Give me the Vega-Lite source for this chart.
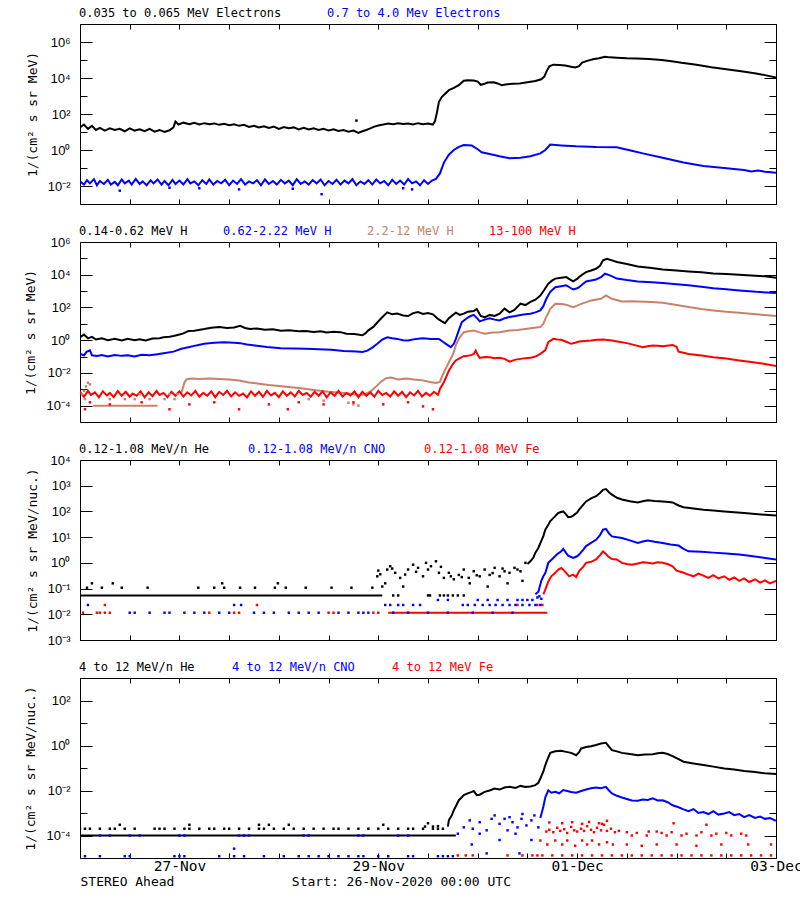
{
"$schema": "https://vega.github.io/schema/vega-lite/v6.json",
"padding": {"left": 24, "top": 6, "right": 0, "bottom": 0},
"spacing": 12,
"config": {
  "view": {"stroke": "#000000", "strokeWidth": 1},
  "font": "DejaVu Sans Mono",
  "axis": {"grid": false, "domain": false, "tickColor": "#000000", "labelColor": "#000000", "titleColor": "#000000", "labelFlush": false, "labelOverlap": false, "tickWidth": 1, "zindex": 2},
  "legend": {"symbolSize": 1, "symbolType": "square", "symbolOpacity": 0, "symbolStrokeWidth": 0, "labelOffset": 0, "labelFont": "DejaVu Sans Mono", "labelFontSize": 12, "labelLimit": 400, "padding": 0, "rowPadding": 0}
},
"resolve": {"scale": {"color": "independent", "y": "independent", "x": "independent"}, "legend": {"color": "independent"}},
"datasets": {
"l1": [
{"s":"a","g":1,"d":0,"v":18},{"s":"a","g":1,"d":0.04,"v":26},{"s":"a","g":1,"d":0.08,"v":15},{"s":"a","g":1,"d":0.12,"v":22},{"s":"a","g":1,"d":0.16,"v":13},{"s":"a","g":1,"d":0.2,"v":17},{"s":"a","g":1,"d":0.25,"v":12},{"s":"a","g":1,"d":0.3,"v":16},{"s":"a","g":1,"d":0.35,"v":13},{"s":"a","g":1,"d":0.4,"v":15},{"s":"a","g":1,"d":0.45,"v":11},{"s":"a","g":1,"d":0.5,"v":16},{"s":"a","g":1,"d":0.55,"v":12},{"s":"a","g":1,"d":0.6,"v":14},{"s":"a","g":1,"d":0.65,"v":11},{"s":"a","g":1,"d":0.7,"v":15},{"s":"a","g":1,"d":0.75,"v":10.5},{"s":"a","g":1,"d":0.8,"v":13},{"s":"a","g":1,"d":0.85,"v":10},{"s":"a","g":1,"d":0.9,"v":12.5},{"s":"a","g":1,"d":0.94,"v":18},{"s":"a","g":1,"d":0.96,"v":38},{"s":"a","g":1,"d":0.99,"v":26},{"s":"a","g":1,"d":1.04,"v":33},{"s":"a","g":1,"d":1.1,"v":27},{"s":"a","g":1,"d":1.15,"v":32},{"s":"a","g":1,"d":1.2,"v":26},{"s":"a","g":1,"d":1.25,"v":31},{"s":"a","g":1,"d":1.3,"v":27},{"s":"a","g":1,"d":1.35,"v":30},{"s":"a","g":1,"d":1.4,"v":25},{"s":"a","g":1,"d":1.45,"v":29},{"s":"a","g":1,"d":1.5,"v":24},{"s":"a","g":1,"d":1.55,"v":27},{"s":"a","g":1,"d":1.6,"v":22},{"s":"a","g":1,"d":1.65,"v":25},{"s":"a","g":1,"d":1.7,"v":19},{"s":"a","g":1,"d":1.75,"v":22},{"s":"a","g":1,"d":1.8,"v":18},{"s":"a","g":1,"d":1.85,"v":21},{"s":"a","g":1,"d":1.9,"v":17},{"s":"a","g":1,"d":1.95,"v":20},{"s":"a","g":1,"d":2.0,"v":15},{"s":"a","g":1,"d":2.05,"v":19},{"s":"a","g":1,"d":2.1,"v":16},{"s":"a","g":1,"d":2.15,"v":18},{"s":"a","g":1,"d":2.2,"v":14},{"s":"a","g":1,"d":2.25,"v":17},{"s":"a","g":1,"d":2.3,"v":14},{"s":"a","g":1,"d":2.35,"v":16},{"s":"a","g":1,"d":2.4,"v":13},{"s":"a","g":1,"d":2.45,"v":15},{"s":"a","g":1,"d":2.5,"v":12},{"s":"a","g":1,"d":2.55,"v":14},{"s":"a","g":1,"d":2.6,"v":11.5},{"s":"a","g":1,"d":2.65,"v":13},{"s":"a","g":1,"d":2.7,"v":10.5},{"s":"a","g":1,"d":2.75,"v":12},{"s":"a","g":1,"d":2.8,"v":9},{"s":"a","g":1,"d":2.84,"v":11},{"s":"a","g":1,"d":2.88,"v":13},{"s":"a","g":1,"d":2.92,"v":16},{"s":"a","g":1,"d":2.96,"v":20},{"s":"a","g":1,"d":3.0,"v":23},{"s":"a","g":1,"d":3.05,"v":26},{"s":"a","g":1,"d":3.1,"v":30},{"s":"a","g":1,"d":3.15,"v":27},{"s":"a","g":1,"d":3.2,"v":31},{"s":"a","g":1,"d":3.25,"v":28},{"s":"a","g":1,"d":3.3,"v":30},{"s":"a","g":1,"d":3.35,"v":26},{"s":"a","g":1,"d":3.4,"v":31},{"s":"a","g":1,"d":3.45,"v":27},{"s":"a","g":1,"d":3.5,"v":30},{"s":"a","g":1,"d":3.55,"v":26},{"s":"a","g":1,"d":3.57,"v":40},{"s":"a","g":1,"d":3.59,"v":120},{"s":"a","g":1,"d":3.61,"v":480},{"s":"a","g":1,"d":3.64,"v":900},{"s":"a","g":1,"d":3.67,"v":1300},{"s":"a","g":1,"d":3.71,"v":2100},{"s":"a","g":1,"d":3.76,"v":2800},{"s":"a","g":1,"d":3.81,"v":4000},{"s":"a","g":1,"d":3.86,"v":7000},{"s":"a","g":1,"d":3.9,"v":7600},{"s":"a","g":1,"d":3.96,"v":7200},{"s":"a","g":1,"d":4.0,"v":6300},{"s":"a","g":1,"d":4.03,"v":4200},{"s":"a","g":1,"d":4.06,"v":4600},{"s":"a","g":1,"d":4.1,"v":5600},{"s":"a","g":1,"d":4.16,"v":5800},{"s":"a","g":1,"d":4.2,"v":5000},{"s":"a","g":1,"d":4.24,"v":4000},{"s":"a","g":1,"d":4.28,"v":4400},{"s":"a","g":1,"d":4.35,"v":4800},{"s":"a","g":1,"d":4.42,"v":5000},{"s":"a","g":1,"d":4.5,"v":5800},{"s":"a","g":1,"d":4.58,"v":6800},{"s":"a","g":1,"d":4.64,"v":8500},{"s":"a","g":1,"d":4.67,"v":12000},{"s":"a","g":1,"d":4.69,"v":22000},{"s":"a","g":1,"d":4.72,"v":45000},{"s":"a","g":1,"d":4.76,"v":55000},{"s":"a","g":1,"d":4.82,"v":52000},{"s":"a","g":1,"d":4.88,"v":50000},{"s":"a","g":1,"d":4.94,"v":42000},{"s":"a","g":1,"d":4.98,"v":38000},{"s":"a","g":1,"d":5.02,"v":45000},{"s":"a","g":1,"d":5.05,"v":72000},{"s":"a","g":1,"d":5.1,"v":89000},{"s":"a","g":1,"d":5.16,"v":110000},{"s":"a","g":1,"d":5.22,"v":125000},{"s":"a","g":1,"d":5.28,"v":150000},{"s":"a","g":1,"d":5.33,"v":140000},{"s":"a","g":1,"d":5.4,"v":135000},{"s":"a","g":1,"d":5.5,"v":125000},{"s":"a","g":1,"d":5.6,"v":120000},{"s":"a","g":1,"d":5.72,"v":112000},{"s":"a","g":1,"d":5.85,"v":100000},{"s":"a","g":1,"d":5.95,"v":85000},{"s":"a","g":1,"d":6.05,"v":70000},{"s":"a","g":1,"d":6.2,"v":55000},{"s":"a","g":1,"d":6.35,"v":40000},{"s":"a","g":1,"d":6.5,"v":31000},{"s":"a","g":1,"d":6.65,"v":24000},{"s":"a","g":1,"d":6.8,"v":18000},{"s":"a","g":1,"d":6.9,"v":14000},{"s":"a","g":1,"d":7.0,"v":10500},
{"s":"b","g":1,"d":0,"v":0.018},{"s":"b","g":1,"d":0.04,"v":0.012},{"s":"b","g":1,"d":0.07,"v":0.021},{"s":"b","g":1,"d":0.1,"v":0.014},{"s":"b","g":1,"d":0.14,"v":0.024},{"s":"b","g":1,"d":0.17,"v":0.011},{"s":"b","g":1,"d":0.2,"v":0.019},{"s":"b","g":1,"d":0.24,"v":0.013},{"s":"b","g":1,"d":0.28,"v":0.022},{"s":"b","g":1,"d":0.31,"v":0.012},{"s":"b","g":1,"d":0.35,"v":0.017},{"s":"b","g":1,"d":0.38,"v":0.011},{"s":"b","g":1,"d":0.42,"v":0.023},{"s":"b","g":1,"d":0.45,"v":0.014},{"s":"b","g":1,"d":0.49,"v":0.02},{"s":"b","g":1,"d":0.52,"v":0.012},{"s":"b","g":1,"d":0.56,"v":0.025},{"s":"b","g":1,"d":0.6,"v":0.013},{"s":"b","g":1,"d":0.63,"v":0.018},{"s":"b","g":1,"d":0.67,"v":0.011},{"s":"b","g":1,"d":0.71,"v":0.021},{"s":"b","g":1,"d":0.74,"v":0.014},{"s":"b","g":1,"d":0.78,"v":0.023},{"s":"b","g":1,"d":0.82,"v":0.012},{"s":"b","g":1,"d":0.85,"v":0.019},{"s":"b","g":1,"d":0.89,"v":0.011},{"s":"b","g":1,"d":0.93,"v":0.022},{"s":"b","g":1,"d":0.96,"v":0.013},{"s":"b","g":1,"d":1.0,"v":0.02},{"s":"b","g":1,"d":1.04,"v":0.012},{"s":"b","g":1,"d":1.08,"v":0.024},{"s":"b","g":1,"d":1.11,"v":0.014},{"s":"b","g":1,"d":1.15,"v":0.018},{"s":"b","g":1,"d":1.19,"v":0.011},{"s":"b","g":1,"d":1.23,"v":0.021},{"s":"b","g":1,"d":1.27,"v":0.013},{"s":"b","g":1,"d":1.3,"v":0.023},{"s":"b","g":1,"d":1.34,"v":0.012},{"s":"b","g":1,"d":1.38,"v":0.019},{"s":"b","g":1,"d":1.42,"v":0.014},{"s":"b","g":1,"d":1.46,"v":0.022},{"s":"b","g":1,"d":1.5,"v":0.011},{"s":"b","g":1,"d":1.54,"v":0.02},{"s":"b","g":1,"d":1.58,"v":0.013},{"s":"b","g":1,"d":1.62,"v":0.024},{"s":"b","g":1,"d":1.66,"v":0.012},{"s":"b","g":1,"d":1.7,"v":0.018},{"s":"b","g":1,"d":1.74,"v":0.014},{"s":"b","g":1,"d":1.78,"v":0.021},{"s":"b","g":1,"d":1.82,"v":0.011},{"s":"b","g":1,"d":1.86,"v":0.023},{"s":"b","g":1,"d":1.9,"v":0.013},{"s":"b","g":1,"d":1.94,"v":0.019},{"s":"b","g":1,"d":1.98,"v":0.012},{"s":"b","g":1,"d":2.02,"v":0.022},{"s":"b","g":1,"d":2.06,"v":0.014},{"s":"b","g":1,"d":2.1,"v":0.02},{"s":"b","g":1,"d":2.14,"v":0.011},{"s":"b","g":1,"d":2.18,"v":0.024},{"s":"b","g":1,"d":2.22,"v":0.013},{"s":"b","g":1,"d":2.26,"v":0.018},{"s":"b","g":1,"d":2.3,"v":0.012},{"s":"b","g":1,"d":2.34,"v":0.021},{"s":"b","g":1,"d":2.38,"v":0.014},{"s":"b","g":1,"d":2.42,"v":0.023},{"s":"b","g":1,"d":2.46,"v":0.011},{"s":"b","g":1,"d":2.5,"v":0.019},{"s":"b","g":1,"d":2.54,"v":0.013},{"s":"b","g":1,"d":2.58,"v":0.022},{"s":"b","g":1,"d":2.62,"v":0.012},{"s":"b","g":1,"d":2.66,"v":0.02},{"s":"b","g":1,"d":2.7,"v":0.014},{"s":"b","g":1,"d":2.74,"v":0.024},{"s":"b","g":1,"d":2.78,"v":0.011},{"s":"b","g":1,"d":2.82,"v":0.018},{"s":"b","g":1,"d":2.86,"v":0.013},{"s":"b","g":1,"d":2.9,"v":0.021},{"s":"b","g":1,"d":2.94,"v":0.012},{"s":"b","g":1,"d":2.98,"v":0.023},{"s":"b","g":1,"d":3.02,"v":0.014},{"s":"b","g":1,"d":3.06,"v":0.019},{"s":"b","g":1,"d":3.1,"v":0.011},{"s":"b","g":1,"d":3.14,"v":0.022},{"s":"b","g":1,"d":3.18,"v":0.013},{"s":"b","g":1,"d":3.22,"v":0.02},{"s":"b","g":1,"d":3.26,"v":0.012},{"s":"b","g":1,"d":3.3,"v":0.024},{"s":"b","g":1,"d":3.34,"v":0.014},{"s":"b","g":1,"d":3.38,"v":0.018},{"s":"b","g":1,"d":3.42,"v":0.011},{"s":"b","g":1,"d":3.46,"v":0.021},{"s":"b","g":1,"d":3.5,"v":0.013},{"s":"b","g":1,"d":3.54,"v":0.02},{"s":"b","g":1,"d":3.58,"v":0.025},{"s":"b","g":1,"d":3.62,"v":0.05},{"s":"b","g":1,"d":3.66,"v":0.2},{"s":"b","g":1,"d":3.71,"v":0.55},{"s":"b","g":1,"d":3.76,"v":1.0},{"s":"b","g":1,"d":3.81,"v":1.5},{"s":"b","g":1,"d":3.86,"v":1.9},{"s":"b","g":1,"d":3.94,"v":1.8},{"s":"b","g":1,"d":4.0,"v":1.1},{"s":"b","g":1,"d":4.04,"v":0.75},{"s":"b","g":1,"d":4.12,"v":0.6},{"s":"b","g":1,"d":4.22,"v":0.45},{"s":"b","g":1,"d":4.32,"v":0.35},{"s":"b","g":1,"d":4.43,"v":0.37},{"s":"b","g":1,"d":4.53,"v":0.45},{"s":"b","g":1,"d":4.63,"v":0.65},{"s":"b","g":1,"d":4.68,"v":1.0},{"s":"b","g":1,"d":4.73,"v":2.0},{"s":"b","g":1,"d":4.84,"v":1.8},{"s":"b","g":1,"d":4.99,"v":1.6},{"s":"b","g":1,"d":5.19,"v":1.45},{"s":"b","g":1,"d":5.4,"v":1.4},{"s":"b","g":1,"d":5.45,"v":1.2},{"s":"b","g":1,"d":5.55,"v":0.9},{"s":"b","g":1,"d":5.66,"v":0.65},{"s":"b","g":1,"d":5.86,"v":0.37},{"s":"b","g":1,"d":6.07,"v":0.2},{"s":"b","g":1,"d":6.27,"v":0.13},{"s":"b","g":1,"d":6.48,"v":0.1},{"s":"b","g":1,"d":6.6,"v":0.085},{"s":"b","g":1,"d":6.68,"v":0.078},{"s":"b","g":1,"d":6.75,"v":0.064},{"s":"b","g":1,"d":6.82,"v":0.072},{"s":"b","g":1,"d":6.89,"v":0.062},{"s":"b","g":1,"d":6.95,"v":0.058},{"s":"b","g":1,"d":7.0,"v":0.055}
],
"q1": [
{"s":"a","d":2.78,"v":43},
{"s":"b","d":0.4,"v":0.0055},{"s":"b","d":0.9,"v":0.008},{"s":"b","d":1.2,"v":0.0075},{"s":"b","d":1.6,"v":0.0065},{"s":"b","d":2.14,"v":0.007},{"s":"b","d":2.43,"v":0.0035},{"s":"b","d":3.25,"v":0.0075},{"s":"b","d":3.34,"v":0.0065}
],
"l2": [
{"s":"a","g":1,"d":0,"v":1.5},{"s":"a","g":1,"d":0.04,"v":2.2},{"s":"a","g":1,"d":0.08,"v":1.3},{"s":"a","g":1,"d":0.12,"v":1.6},{"s":"a","g":1,"d":0.16,"v":1.1},{"s":"a","g":1,"d":0.22,"v":1.3},{"s":"a","g":1,"d":0.28,"v":1.0},{"s":"a","g":1,"d":0.35,"v":1.2},{"s":"a","g":1,"d":0.42,"v":0.95},{"s":"a","g":1,"d":0.48,"v":1.2},{"s":"a","g":1,"d":0.55,"v":1.0},{"s":"a","g":1,"d":0.6,"v":1.15},{"s":"a","g":1,"d":0.66,"v":0.95},{"s":"a","g":1,"d":0.73,"v":1.25},{"s":"a","g":1,"d":0.8,"v":1.3},{"s":"a","g":1,"d":0.84,"v":1.5},{"s":"a","g":1,"d":0.9,"v":1.6},{"s":"a","g":1,"d":0.94,"v":1.8},{"s":"a","g":1,"d":1.0,"v":2.2},{"s":"a","g":1,"d":1.04,"v":2.6},{"s":"a","g":1,"d":1.09,"v":3.6},{"s":"a","g":1,"d":1.15,"v":3.8},{"s":"a","g":1,"d":1.25,"v":4.8},{"s":"a","g":1,"d":1.32,"v":5.8},{"s":"a","g":1,"d":1.4,"v":6.3},{"s":"a","g":1,"d":1.48,"v":5.5},{"s":"a","g":1,"d":1.55,"v":5.9},{"s":"a","g":1,"d":1.61,"v":7.5},{"s":"a","g":1,"d":1.66,"v":5.6},{"s":"a","g":1,"d":1.71,"v":4.8},{"s":"a","g":1,"d":1.78,"v":5.2},{"s":"a","g":1,"d":1.86,"v":4.4},{"s":"a","g":1,"d":1.94,"v":4.6},{"s":"a","g":1,"d":2.02,"v":3.8},{"s":"a","g":1,"d":2.1,"v":4.0},{"s":"a","g":1,"d":2.2,"v":3.5},{"s":"a","g":1,"d":2.27,"v":3.6},{"s":"a","g":1,"d":2.35,"v":3.2},{"s":"a","g":1,"d":2.42,"v":3.5},{"s":"a","g":1,"d":2.48,"v":3.0},{"s":"a","g":1,"d":2.55,"v":3.3},{"s":"a","g":1,"d":2.62,"v":3.1},{"s":"a","g":1,"d":2.68,"v":2.5},{"s":"a","g":1,"d":2.76,"v":2.4},{"s":"a","g":1,"d":2.84,"v":2.0},{"s":"a","g":1,"d":2.87,"v":2.6},{"s":"a","g":1,"d":2.9,"v":4.0},{"s":"a","g":1,"d":2.95,"v":6.5},{"s":"a","g":1,"d":2.99,"v":12},{"s":"a","g":1,"d":3.04,"v":25},{"s":"a","g":1,"d":3.09,"v":50},{"s":"a","g":1,"d":3.14,"v":38},{"s":"a","g":1,"d":3.19,"v":42},{"s":"a","g":1,"d":3.25,"v":32},{"s":"a","g":1,"d":3.3,"v":30},{"s":"a","g":1,"d":3.35,"v":45},{"s":"a","g":1,"d":3.4,"v":52},{"s":"a","g":1,"d":3.45,"v":40},{"s":"a","g":1,"d":3.5,"v":46},{"s":"a","g":1,"d":3.55,"v":38},{"s":"a","g":1,"d":3.6,"v":20},{"s":"a","g":1,"d":3.64,"v":14},{"s":"a","g":1,"d":3.67,"v":11},{"s":"a","g":1,"d":3.71,"v":22},{"s":"a","g":1,"d":3.75,"v":35},{"s":"a","g":1,"d":3.78,"v":48},{"s":"a","g":1,"d":3.82,"v":35},{"s":"a","g":1,"d":3.86,"v":42},{"s":"a","g":1,"d":3.9,"v":55},{"s":"a","g":1,"d":3.96,"v":60},{"s":"a","g":1,"d":3.99,"v":80},{"s":"a","g":1,"d":4.03,"v":30},{"s":"a","g":1,"d":4.07,"v":25},{"s":"a","g":1,"d":4.12,"v":35},{"s":"a","g":1,"d":4.17,"v":30},{"s":"a","g":1,"d":4.22,"v":42},{"s":"a","g":1,"d":4.27,"v":85},{"s":"a","g":1,"d":4.32,"v":50},{"s":"a","g":1,"d":4.37,"v":70},{"s":"a","g":1,"d":4.43,"v":170},{"s":"a","g":1,"d":4.48,"v":140},{"s":"a","g":1,"d":4.53,"v":220},{"s":"a","g":1,"d":4.58,"v":300},{"s":"a","g":1,"d":4.63,"v":540},{"s":"a","g":1,"d":4.67,"v":1200},{"s":"a","g":1,"d":4.71,"v":2800},{"s":"a","g":1,"d":4.75,"v":4500},{"s":"a","g":1,"d":4.78,"v":5800},{"s":"a","g":1,"d":4.84,"v":6500},{"s":"a","g":1,"d":4.89,"v":7200},{"s":"a","g":1,"d":4.93,"v":5000},{"s":"a","g":1,"d":4.96,"v":3900},{"s":"a","g":1,"d":5.0,"v":5500},{"s":"a","g":1,"d":5.02,"v":7200},{"s":"a","g":1,"d":5.06,"v":11000},{"s":"a","g":1,"d":5.09,"v":14500},{"s":"a","g":1,"d":5.14,"v":18000},{"s":"a","g":1,"d":5.19,"v":23000},{"s":"a","g":1,"d":5.23,"v":35000},{"s":"a","g":1,"d":5.26,"v":76000},{"s":"a","g":1,"d":5.3,"v":95000},{"s":"a","g":1,"d":5.35,"v":75000},{"s":"a","g":1,"d":5.4,"v":60000},{"s":"a","g":1,"d":5.5,"v":45000},{"s":"a","g":1,"d":5.61,"v":32000},{"s":"a","g":1,"d":5.75,"v":26000},{"s":"a","g":1,"d":5.86,"v":21000},{"s":"a","g":1,"d":6.0,"v":18000},{"s":"a","g":1,"d":6.12,"v":16000},{"s":"a","g":1,"d":6.25,"v":14000},{"s":"a","g":1,"d":6.37,"v":12000},{"s":"a","g":1,"d":6.5,"v":11000},{"s":"a","g":1,"d":6.63,"v":10000},{"s":"a","g":1,"d":6.75,"v":9000},{"s":"a","g":1,"d":6.89,"v":8000},{"s":"a","g":1,"d":7.0,"v":6600},
{"s":"b","g":1,"d":0,"v":0.145},{"s":"b","g":1,"d":0.04,"v":0.12},{"s":"b","g":1,"d":0.07,"v":0.2},{"s":"b","g":1,"d":0.1,"v":0.24},{"s":"b","g":1,"d":0.12,"v":0.12},{"s":"b","g":1,"d":0.17,"v":0.11},{"s":"b","g":1,"d":0.22,"v":0.125},{"s":"b","g":1,"d":0.28,"v":0.1},{"s":"b","g":1,"d":0.35,"v":0.125},{"s":"b","g":1,"d":0.42,"v":0.11},{"s":"b","g":1,"d":0.48,"v":0.12},{"s":"b","g":1,"d":0.55,"v":0.1},{"s":"b","g":1,"d":0.62,"v":0.13},{"s":"b","g":1,"d":0.7,"v":0.12},{"s":"b","g":1,"d":0.78,"v":0.14},{"s":"b","g":1,"d":0.84,"v":0.16},{"s":"b","g":1,"d":0.94,"v":0.2},{"s":"b","g":1,"d":1.02,"v":0.3},{"s":"b","g":1,"d":1.09,"v":0.37},{"s":"b","g":1,"d":1.17,"v":0.48},{"s":"b","g":1,"d":1.25,"v":0.6},{"s":"b","g":1,"d":1.35,"v":0.7},{"s":"b","g":1,"d":1.45,"v":0.76},{"s":"b","g":1,"d":1.55,"v":0.7},{"s":"b","g":1,"d":1.61,"v":0.66},{"s":"b","g":1,"d":1.68,"v":0.55},{"s":"b","g":1,"d":1.76,"v":0.47},{"s":"b","g":1,"d":1.88,"v":0.38},{"s":"b","g":1,"d":2.02,"v":0.32},{"s":"b","g":1,"d":2.15,"v":0.31},{"s":"b","g":1,"d":2.27,"v":0.3},{"s":"b","g":1,"d":2.4,"v":0.28},{"s":"b","g":1,"d":2.53,"v":0.26},{"s":"b","g":1,"d":2.65,"v":0.22},{"s":"b","g":1,"d":2.78,"v":0.2},{"s":"b","g":1,"d":2.84,"v":0.19},{"s":"b","g":1,"d":2.89,"v":0.23},{"s":"b","g":1,"d":2.94,"v":0.35},{"s":"b","g":1,"d":2.99,"v":0.6},{"s":"b","g":1,"d":3.04,"v":1.1},{"s":"b","g":1,"d":3.09,"v":1.5},{"s":"b","g":1,"d":3.14,"v":1.3},{"s":"b","g":1,"d":3.19,"v":1.2},{"s":"b","g":1,"d":3.25,"v":1.0},{"s":"b","g":1,"d":3.3,"v":0.95},{"s":"b","g":1,"d":3.38,"v":1.2},{"s":"b","g":1,"d":3.45,"v":1.3},{"s":"b","g":1,"d":3.53,"v":1.2},{"s":"b","g":1,"d":3.61,"v":1.2},{"s":"b","g":1,"d":3.65,"v":0.8},{"s":"b","g":1,"d":3.68,"v":0.6},{"s":"b","g":1,"d":3.71,"v":0.45},{"s":"b","g":1,"d":3.73,"v":0.37},{"s":"b","g":1,"d":3.76,"v":0.6},{"s":"b","g":1,"d":3.78,"v":1.2},{"s":"b","g":1,"d":3.81,"v":4},{"s":"b","g":1,"d":3.84,"v":12.6},{"s":"b","g":1,"d":3.89,"v":22},{"s":"b","g":1,"d":3.93,"v":30},{"s":"b","g":1,"d":3.96,"v":35},{"s":"b","g":1,"d":4.0,"v":20},{"s":"b","g":1,"d":4.02,"v":14},{"s":"b","g":1,"d":4.07,"v":18},{"s":"b","g":1,"d":4.12,"v":22},{"s":"b","g":1,"d":4.17,"v":18},{"s":"b","g":1,"d":4.22,"v":16},{"s":"b","g":1,"d":4.27,"v":22},{"s":"b","g":1,"d":4.32,"v":26},{"s":"b","g":1,"d":4.38,"v":30},{"s":"b","g":1,"d":4.43,"v":35},{"s":"b","g":1,"d":4.48,"v":38},{"s":"b","g":1,"d":4.53,"v":41},{"s":"b","g":1,"d":4.58,"v":50},{"s":"b","g":1,"d":4.63,"v":66},{"s":"b","g":1,"d":4.66,"v":120},{"s":"b","g":1,"d":4.69,"v":340},{"s":"b","g":1,"d":4.73,"v":900},{"s":"b","g":1,"d":4.78,"v":1740},{"s":"b","g":1,"d":4.84,"v":2000},{"s":"b","g":1,"d":4.89,"v":2240},{"s":"b","g":1,"d":4.93,"v":1600},{"s":"b","g":1,"d":4.96,"v":1260},{"s":"b","g":1,"d":5.0,"v":1500},{"s":"b","g":1,"d":5.02,"v":1740},{"s":"b","g":1,"d":5.06,"v":2800},{"s":"b","g":1,"d":5.09,"v":3900},{"s":"b","g":1,"d":5.14,"v":4500},{"s":"b","g":1,"d":5.19,"v":5100},{"s":"b","g":1,"d":5.24,"v":7000},{"s":"b","g":1,"d":5.28,"v":11500},{"s":"b","g":1,"d":5.33,"v":9100},{"s":"b","g":1,"d":5.4,"v":5800},{"s":"b","g":1,"d":5.5,"v":4700},{"s":"b","g":1,"d":5.61,"v":3900},{"s":"b","g":1,"d":5.75,"v":3500},{"s":"b","g":1,"d":5.86,"v":3100},{"s":"b","g":1,"d":6.0,"v":2600},{"s":"b","g":1,"d":6.12,"v":2240},{"s":"b","g":1,"d":6.25,"v":1850},{"s":"b","g":1,"d":6.37,"v":1500},{"s":"b","g":1,"d":6.5,"v":1300},{"s":"b","g":1,"d":6.63,"v":1100},{"s":"b","g":1,"d":6.8,"v":900},{"s":"b","g":1,"d":7.0,"v":760},
{"s":"c","g":0,"d":0.13,"v":0.0001},{"s":"c","g":0,"d":0.78,"v":0.0001},
{"s":"c","g":1,"d":1.02,"v":0.0006},{"s":"c","g":1,"d":1.05,"v":0.0025},{"s":"c","g":1,"d":1.07,"v":0.004},{"s":"c","g":1,"d":1.12,"v":0.0045},{"s":"c","g":1,"d":1.2,"v":0.0042},{"s":"c","g":1,"d":1.3,"v":0.0046},{"s":"c","g":1,"d":1.4,"v":0.0042},{"s":"c","g":1,"d":1.5,"v":0.0039},{"s":"c","g":1,"d":1.6,"v":0.0034},{"s":"c","g":1,"d":1.7,"v":0.0026},{"s":"c","g":1,"d":1.8,"v":0.0022},{"s":"c","g":1,"d":1.9,"v":0.0018},{"s":"c","g":1,"d":2.0,"v":0.0016},{"s":"c","g":1,"d":2.1,"v":0.0014},{"s":"c","g":1,"d":2.2,"v":0.0012},{"s":"c","g":1,"d":2.35,"v":0.0009},{"s":"c","g":1,"d":2.5,"v":0.0007},{"s":"c","g":1,"d":2.6,"v":0.00063},{"s":"c","g":1,"d":2.7,"v":0.00055},{"s":"c","g":1,"d":2.8,"v":0.00045},{"s":"c","g":1,"d":2.87,"v":0.0005},{"s":"c","g":1,"d":2.93,"v":0.0008},{"s":"c","g":1,"d":2.98,"v":0.0015},{"s":"c","g":1,"d":3.03,"v":0.003},{"s":"c","g":1,"d":3.08,"v":0.0048},{"s":"c","g":1,"d":3.13,"v":0.0052},{"s":"c","g":1,"d":3.2,"v":0.004},{"s":"c","g":1,"d":3.28,"v":0.0045},{"s":"c","g":1,"d":3.36,"v":0.004},{"s":"c","g":1,"d":3.45,"v":0.0035},{"s":"c","g":1,"d":3.52,"v":0.0028},{"s":"c","g":1,"d":3.58,"v":0.0024},{"s":"c","g":1,"d":3.62,"v":0.0028},{"s":"c","g":1,"d":3.64,"v":0.006},{"s":"c","g":1,"d":3.66,"v":0.011},{"s":"c","g":1,"d":3.69,"v":0.025},{"s":"c","g":1,"d":3.71,"v":0.045},{"s":"c","g":1,"d":3.74,"v":0.1},{"s":"c","g":1,"d":3.76,"v":0.19},{"s":"c","g":1,"d":3.78,"v":0.5},{"s":"c","g":1,"d":3.81,"v":1.2},{"s":"c","g":1,"d":3.84,"v":2.2},{"s":"c","g":1,"d":3.86,"v":3.1},{"s":"c","g":1,"d":3.91,"v":3.5},{"s":"c","g":1,"d":3.96,"v":3.9},{"s":"c","g":1,"d":4.02,"v":3.0},{"s":"c","g":1,"d":4.07,"v":2.5},{"s":"c","g":1,"d":4.15,"v":2.9},{"s":"c","g":1,"d":4.22,"v":3.1},{"s":"c","g":1,"d":4.32,"v":3.9},{"s":"c","g":1,"d":4.4,"v":4.2},{"s":"c","g":1,"d":4.48,"v":4.9},{"s":"c","g":1,"d":4.55,"v":5.5},{"s":"c","g":1,"d":4.63,"v":6.3},{"s":"c","g":1,"d":4.66,"v":10},{"s":"c","g":1,"d":4.68,"v":20},{"s":"c","g":1,"d":4.71,"v":45},{"s":"c","g":1,"d":4.73,"v":83},{"s":"c","g":1,"d":4.78,"v":166},{"s":"c","g":1,"d":4.84,"v":160},{"s":"c","g":1,"d":4.89,"v":145},{"s":"c","g":1,"d":4.96,"v":105},{"s":"c","g":1,"d":5.0,"v":130},{"s":"c","g":1,"d":5.04,"v":166},{"s":"c","g":1,"d":5.1,"v":220},{"s":"c","g":1,"d":5.14,"v":270},{"s":"c","g":1,"d":5.2,"v":310},{"s":"c","g":1,"d":5.24,"v":340},{"s":"c","g":1,"d":5.29,"v":537},{"s":"c","g":1,"d":5.35,"v":340},{"s":"c","g":1,"d":5.45,"v":234},{"s":"c","g":1,"d":5.55,"v":240},{"s":"c","g":1,"d":5.61,"v":234},{"s":"c","g":1,"d":5.75,"v":215},{"s":"c","g":1,"d":5.86,"v":195},{"s":"c","g":1,"d":6.0,"v":140},{"s":"c","g":1,"d":6.12,"v":105},{"s":"c","g":1,"d":6.25,"v":80},{"s":"c","g":1,"d":6.37,"v":66},{"s":"c","g":1,"d":6.5,"v":55},{"s":"c","g":1,"d":6.63,"v":47},{"s":"c","g":1,"d":6.8,"v":38},{"s":"c","g":1,"d":7.0,"v":30},
{"s":"d","g":1,"d":0,"v":0.0007},{"s":"d","g":1,"d":0.04,"v":0.00035},{"s":"d","g":1,"d":0.08,"v":0.0008},{"s":"d","g":1,"d":0.11,"v":0.00045},{"s":"d","g":1,"d":0.15,"v":0.00065},{"s":"d","g":1,"d":0.19,"v":0.00032},{"s":"d","g":1,"d":0.23,"v":0.00075},{"s":"d","g":1,"d":0.27,"v":0.00042},{"s":"d","g":1,"d":0.3,"v":0.0006},{"s":"d","g":1,"d":0.34,"v":0.00033},{"s":"d","g":1,"d":0.38,"v":0.0008},{"s":"d","g":1,"d":0.42,"v":0.0004},{"s":"d","g":1,"d":0.46,"v":0.0007},{"s":"d","g":1,"d":0.5,"v":0.00035},{"s":"d","g":1,"d":0.53,"v":0.00055},{"s":"d","g":1,"d":0.57,"v":0.0004},{"s":"d","g":1,"d":0.61,"v":0.00075},{"s":"d","g":1,"d":0.65,"v":0.00032},{"s":"d","g":1,"d":0.69,"v":0.00065},{"s":"d","g":1,"d":0.73,"v":0.00038},{"s":"d","g":1,"d":0.77,"v":0.0008},{"s":"d","g":1,"d":0.8,"v":0.00045},{"s":"d","g":1,"d":0.84,"v":0.0006},{"s":"d","g":1,"d":0.88,"v":0.00033},{"s":"d","g":1,"d":0.92,"v":0.0007},{"s":"d","g":1,"d":0.96,"v":0.0004},{"s":"d","g":1,"d":1.0,"v":0.00075},{"s":"d","g":1,"d":1.04,"v":0.00036},{"s":"d","g":1,"d":1.08,"v":0.00065},{"s":"d","g":1,"d":1.12,"v":0.00042},{"s":"d","g":1,"d":1.16,"v":0.0008},{"s":"d","g":1,"d":1.2,"v":0.00035},{"s":"d","g":1,"d":1.24,"v":0.0006},{"s":"d","g":1,"d":1.28,"v":0.0004},{"s":"d","g":1,"d":1.32,"v":0.00075},{"s":"d","g":1,"d":1.36,"v":0.00033},{"s":"d","g":1,"d":1.4,"v":0.0007},{"s":"d","g":1,"d":1.44,"v":0.00045},{"s":"d","g":1,"d":1.48,"v":0.0008},{"s":"d","g":1,"d":1.52,"v":0.00036},{"s":"d","g":1,"d":1.56,"v":0.00065},{"s":"d","g":1,"d":1.6,"v":0.0004},{"s":"d","g":1,"d":1.64,"v":0.00055},{"s":"d","g":1,"d":1.68,"v":0.00032},{"s":"d","g":1,"d":1.72,"v":0.00075},{"s":"d","g":1,"d":1.76,"v":0.0004},{"s":"d","g":1,"d":1.8,"v":0.0007},{"s":"d","g":1,"d":1.84,"v":0.00035},{"s":"d","g":1,"d":1.88,"v":0.0008},{"s":"d","g":1,"d":1.92,"v":0.00042},{"s":"d","g":1,"d":1.96,"v":0.0006},{"s":"d","g":1,"d":2.0,"v":0.00033},{"s":"d","g":1,"d":2.04,"v":0.00075},{"s":"d","g":1,"d":2.08,"v":0.0004},{"s":"d","g":1,"d":2.12,"v":0.00065},{"s":"d","g":1,"d":2.16,"v":0.00036},{"s":"d","g":1,"d":2.2,"v":0.0008},{"s":"d","g":1,"d":2.24,"v":0.00045},{"s":"d","g":1,"d":2.28,"v":0.0006},{"s":"d","g":1,"d":2.32,"v":0.00035},{"s":"d","g":1,"d":2.36,"v":0.0007},{"s":"d","g":1,"d":2.4,"v":0.0004},{"s":"d","g":1,"d":2.44,"v":0.00075},{"s":"d","g":1,"d":2.48,"v":0.00032},{"s":"d","g":1,"d":2.52,"v":0.00065},{"s":"d","g":1,"d":2.56,"v":0.0004},{"s":"d","g":1,"d":2.6,"v":0.0008},{"s":"d","g":1,"d":2.64,"v":0.00036},{"s":"d","g":1,"d":2.68,"v":0.0006},{"s":"d","g":1,"d":2.72,"v":0.00042},{"s":"d","g":1,"d":2.76,"v":0.00075},{"s":"d","g":1,"d":2.8,"v":0.00033},{"s":"d","g":1,"d":2.84,"v":0.0007},{"s":"d","g":1,"d":2.88,"v":0.0004},{"s":"d","g":1,"d":2.92,"v":0.00065},{"s":"d","g":1,"d":2.96,"v":0.00035},{"s":"d","g":1,"d":3.0,"v":0.0008},{"s":"d","g":1,"d":3.04,"v":0.00045},{"s":"d","g":1,"d":3.08,"v":0.0006},{"s":"d","g":1,"d":3.12,"v":0.00036},{"s":"d","g":1,"d":3.16,"v":0.00075},{"s":"d","g":1,"d":3.2,"v":0.0004},{"s":"d","g":1,"d":3.24,"v":0.0007},{"s":"d","g":1,"d":3.28,"v":0.00033},{"s":"d","g":1,"d":3.32,"v":0.00065},{"s":"d","g":1,"d":3.36,"v":0.00042},{"s":"d","g":1,"d":3.4,"v":0.0008},{"s":"d","g":1,"d":3.44,"v":0.00036},{"s":"d","g":1,"d":3.48,"v":0.0006},{"s":"d","g":1,"d":3.52,"v":0.0004},{"s":"d","g":1,"d":3.56,"v":0.0007},{"s":"d","g":1,"d":3.6,"v":0.00045},{"s":"d","g":1,"d":3.62,"v":0.00105},{"s":"d","g":1,"d":3.66,"v":0.0027},{"s":"d","g":1,"d":3.71,"v":0.0138},{"s":"d","g":1,"d":3.75,"v":0.035},{"s":"d","g":1,"d":3.78,"v":0.058},{"s":"d","g":1,"d":3.82,"v":0.08},{"s":"d","g":1,"d":3.86,"v":0.105},{"s":"d","g":1,"d":3.9,"v":0.11},{"s":"d","g":1,"d":3.94,"v":0.126},{"s":"d","g":1,"d":3.96,"v":0.145},{"s":"d","g":1,"d":3.98,"v":0.23},{"s":"d","g":1,"d":4.0,"v":0.126},{"s":"d","g":1,"d":4.02,"v":0.083},{"s":"d","g":1,"d":4.07,"v":0.095},{"s":"d","g":1,"d":4.12,"v":0.091},{"s":"d","g":1,"d":4.17,"v":0.08},{"s":"d","g":1,"d":4.22,"v":0.085},{"s":"d","g":1,"d":4.27,"v":0.072},{"s":"d","g":1,"d":4.32,"v":0.049},{"s":"d","g":1,"d":4.38,"v":0.065},{"s":"d","g":1,"d":4.43,"v":0.072},{"s":"d","g":1,"d":4.48,"v":0.08},{"s":"d","g":1,"d":4.53,"v":0.083},{"s":"d","g":1,"d":4.58,"v":0.1},{"s":"d","g":1,"d":4.63,"v":0.145},{"s":"d","g":1,"d":4.66,"v":0.2},{"s":"d","g":1,"d":4.68,"v":0.25},{"s":"d","g":1,"d":4.71,"v":0.76},{"s":"d","g":1,"d":4.76,"v":1.2},{"s":"d","g":1,"d":4.8,"v":1.1},{"s":"d","g":1,"d":4.84,"v":1.05},{"s":"d","g":1,"d":4.89,"v":0.8},{"s":"d","g":1,"d":4.94,"v":0.6},{"s":"d","g":1,"d":4.98,"v":0.7},{"s":"d","g":1,"d":5.02,"v":0.83},{"s":"d","g":1,"d":5.08,"v":0.9},{"s":"d","g":1,"d":5.14,"v":0.95},{"s":"d","g":1,"d":5.2,"v":1.05},{"s":"d","g":1,"d":5.26,"v":1.1},{"s":"d","g":1,"d":5.35,"v":0.95},{"s":"d","g":1,"d":5.42,"v":0.8},{"s":"d","g":1,"d":5.5,"v":0.66},{"s":"d","g":1,"d":5.58,"v":0.5},{"s":"d","g":1,"d":5.66,"v":0.37},{"s":"d","g":1,"d":5.71,"v":0.42},{"s":"d","g":1,"d":5.76,"v":0.47},{"s":"d","g":1,"d":5.81,"v":0.45},{"s":"d","g":1,"d":5.86,"v":0.43},{"s":"d","g":1,"d":5.92,"v":0.48},{"s":"d","g":1,"d":5.96,"v":0.51},{"s":"d","g":1,"d":6.0,"v":0.4},{"s":"d","g":1,"d":6.02,"v":0.2},{"s":"d","g":1,"d":6.07,"v":0.17},{"s":"d","g":1,"d":6.12,"v":0.145},{"s":"d","g":1,"d":6.25,"v":0.115},{"s":"d","g":1,"d":6.37,"v":0.091},{"s":"d","g":1,"d":6.5,"v":0.075},{"s":"d","g":1,"d":6.63,"v":0.058},{"s":"d","g":1,"d":6.75,"v":0.047},{"s":"d","g":1,"d":6.89,"v":0.035},{"s":"d","g":1,"d":7.0,"v":0.026}
],
"q2": [
{"s":"c","d":0.02,"v":0.0005},{"s":"c","d":0.04,"v":0.0008},{"s":"c","d":0.06,"v":0.0015},{"s":"c","d":0.08,"v":0.0025},{"s":"c","d":0.1,"v":0.002},{"s":"c","d":0.05,"v":0.00025},{"s":"c","d":0.3,"v":0.00025},{"s":"c","d":0.45,"v":0.00025},{"s":"c","d":0.55,"v":0.00025},{"s":"c","d":0.6,"v":0.0005},{"s":"c","d":0.7,"v":0.00025},{"s":"c","d":0.85,"v":0.00025},{"s":"c","d":0.9,"v":0.0005},{"s":"c","d":0.95,"v":0.00025},{"s":"c","d":0.98,"v":0.0005},{"s":"c","d":2.3,"v":0.00025},{"s":"c","d":2.45,"v":0.0002},{"s":"c","d":2.7,"v":0.00015},{"s":"c","d":2.75,"v":0.00012},{"s":"c","d":2.8,"v":0.0001},
{"s":"d","d":0.05,"v":0.00006},{"s":"d","d":0.1,"v":0.00016},{"s":"d","d":0.3,"v":0.00012},{"s":"d","d":0.62,"v":0.00016},{"s":"d","d":0.9,"v":0.00006},{"s":"d","d":1.1,"v":0.00012},{"s":"d","d":1.35,"v":0.00016},{"s":"d","d":1.6,"v":0.00006},{"s":"d","d":1.9,"v":0.00012},{"s":"d","d":2.09,"v":0.00006},{"s":"d","d":2.2,"v":0.00016},{"s":"d","d":2.45,"v":0.00012},{"s":"d","d":2.75,"v":0.00016},{"s":"d","d":3.05,"v":0.00012},{"s":"d","d":3.3,"v":0.00016},{"s":"d","d":3.45,"v":0.00009},{"s":"d","d":3.55,"v":0.00006}
],
"l3": [
{"s":"a","g":0,"d":0,"v":0.054},{"s":"a","g":0,"d":3.04,"v":0.054},
{"s":"a","g":1,"d":4.5,"v":0.9},{"s":"a","g":1,"d":4.53,"v":1.15},{"s":"a","g":1,"d":4.56,"v":1.6},{"s":"a","g":1,"d":4.58,"v":2.5},{"s":"a","g":1,"d":4.61,"v":3.8},{"s":"a","g":1,"d":4.63,"v":5.9},{"s":"a","g":1,"d":4.66,"v":11},{"s":"a","g":1,"d":4.68,"v":19.5},{"s":"a","g":1,"d":4.71,"v":30},{"s":"a","g":1,"d":4.73,"v":42},{"s":"a","g":1,"d":4.77,"v":60},{"s":"a","g":1,"d":4.81,"v":87},{"s":"a","g":1,"d":4.84,"v":95},{"s":"a","g":1,"d":4.86,"v":100},{"s":"a","g":1,"d":4.89,"v":75},{"s":"a","g":1,"d":4.91,"v":60},{"s":"a","g":1,"d":4.94,"v":62},{"s":"a","g":1,"d":4.96,"v":69},{"s":"a","g":1,"d":5.0,"v":90},{"s":"a","g":1,"d":5.02,"v":117},{"s":"a","g":1,"d":5.06,"v":180},{"s":"a","g":1,"d":5.09,"v":245},{"s":"a","g":1,"d":5.14,"v":320},{"s":"a","g":1,"d":5.19,"v":390},{"s":"a","g":1,"d":5.23,"v":520},{"s":"a","g":1,"d":5.26,"v":690},{"s":"a","g":1,"d":5.29,"v":740},{"s":"a","g":1,"d":5.32,"v":560},{"s":"a","g":1,"d":5.35,"v":447},{"s":"a","g":1,"d":5.4,"v":340},{"s":"a","g":1,"d":5.45,"v":290},{"s":"a","g":1,"d":5.53,"v":250},{"s":"a","g":1,"d":5.61,"v":224},{"s":"a","g":1,"d":5.66,"v":250},{"s":"a","g":1,"d":5.71,"v":270},{"s":"a","g":1,"d":5.78,"v":255},{"s":"a","g":1,"d":5.86,"v":245},{"s":"a","g":1,"d":5.92,"v":235},{"s":"a","g":1,"d":5.96,"v":224},{"s":"a","g":1,"d":6.02,"v":170},{"s":"a","g":1,"d":6.07,"v":145},{"s":"a","g":1,"d":6.17,"v":130},{"s":"a","g":1,"d":6.27,"v":117},{"s":"a","g":1,"d":6.37,"v":108},{"s":"a","g":1,"d":6.48,"v":100},{"s":"a","g":1,"d":6.58,"v":93},{"s":"a","g":1,"d":6.68,"v":87},{"s":"a","g":1,"d":6.79,"v":80},{"s":"a","g":1,"d":6.89,"v":74},{"s":"a","g":1,"d":7.0,"v":69},
{"s":"b","g":1,"d":4.58,"v":0.06},{"s":"b","g":1,"d":4.61,"v":0.075},{"s":"b","g":1,"d":4.64,"v":0.2},{"s":"b","g":1,"d":4.66,"v":0.3},{"s":"b","g":1,"d":4.68,"v":0.4},{"s":"b","g":1,"d":4.71,"v":1.0},{"s":"b","g":1,"d":4.76,"v":1.55},{"s":"b","g":1,"d":4.8,"v":2.2},{"s":"b","g":1,"d":4.84,"v":2.8},{"s":"b","g":1,"d":4.86,"v":3.5},{"s":"b","g":1,"d":4.89,"v":2.4},{"s":"b","g":1,"d":4.91,"v":1.9},{"s":"b","g":1,"d":4.96,"v":1.55},{"s":"b","g":1,"d":5.0,"v":1.8},{"s":"b","g":1,"d":5.02,"v":2.1},{"s":"b","g":1,"d":5.06,"v":3.2},{"s":"b","g":1,"d":5.09,"v":4.5},{"s":"b","g":1,"d":5.14,"v":6},{"s":"b","g":1,"d":5.19,"v":7.9},{"s":"b","g":1,"d":5.23,"v":12},{"s":"b","g":1,"d":5.26,"v":19.5},{"s":"b","g":1,"d":5.29,"v":21},{"s":"b","g":1,"d":5.32,"v":14},{"s":"b","g":1,"d":5.35,"v":10.7},{"s":"b","g":1,"d":5.4,"v":10},{"s":"b","g":1,"d":5.45,"v":9.3},{"s":"b","g":1,"d":5.53,"v":7.5},{"s":"b","g":1,"d":5.61,"v":5.9},{"s":"b","g":1,"d":5.66,"v":6.8},{"s":"b","g":1,"d":5.71,"v":7.4},{"s":"b","g":1,"d":5.78,"v":6.6},{"s":"b","g":1,"d":5.86,"v":5.9},{"s":"b","g":1,"d":5.94,"v":5.2},{"s":"b","g":1,"d":6.02,"v":4.7},{"s":"b","g":1,"d":6.07,"v":3.5},{"s":"b","g":1,"d":6.12,"v":2.8},{"s":"b","g":1,"d":6.25,"v":2.7},{"s":"b","g":1,"d":6.37,"v":2.5},{"s":"b","g":1,"d":6.5,"v":2.3},{"s":"b","g":1,"d":6.63,"v":2.1},{"s":"b","g":1,"d":6.75,"v":1.85},{"s":"b","g":1,"d":6.89,"v":1.55},{"s":"b","g":1,"d":7.0,"v":1.35},
{"s":"c","g":0,"d":3.1,"v":0.0115},{"s":"c","g":0,"d":4.7,"v":0.0115},
{"s":"c","g":1,"d":4.66,"v":0.06},{"s":"c","g":1,"d":4.68,"v":0.091},{"s":"c","g":1,"d":4.71,"v":0.19},{"s":"c","g":1,"d":4.74,"v":0.3},{"s":"c","g":1,"d":4.78,"v":0.41},{"s":"c","g":1,"d":4.81,"v":0.55},{"s":"c","g":1,"d":4.84,"v":0.63},{"s":"c","g":1,"d":4.87,"v":0.5},{"s":"c","g":1,"d":4.89,"v":0.41},{"s":"c","g":1,"d":4.92,"v":0.3},{"s":"c","g":1,"d":4.96,"v":0.35},{"s":"c","g":1,"d":4.99,"v":0.28},{"s":"c","g":1,"d":5.02,"v":0.48},{"s":"c","g":1,"d":5.06,"v":0.7},{"s":"c","g":1,"d":5.09,"v":1.0},{"s":"c","g":1,"d":5.14,"v":1.1},{"s":"c","g":1,"d":5.19,"v":1.35},{"s":"c","g":1,"d":5.23,"v":2.0},{"s":"c","g":1,"d":5.26,"v":2.8},{"s":"c","g":1,"d":5.29,"v":2.2},{"s":"c","g":1,"d":5.31,"v":1.8},{"s":"c","g":1,"d":5.35,"v":1.4},{"s":"c","g":1,"d":5.4,"v":1.35},{"s":"c","g":1,"d":5.45,"v":1.0},{"s":"c","g":1,"d":5.5,"v":0.9},{"s":"c","g":1,"d":5.55,"v":0.85},{"s":"c","g":1,"d":5.61,"v":0.95},{"s":"c","g":1,"d":5.66,"v":1.05},{"s":"c","g":1,"d":5.71,"v":1.0},{"s":"c","g":1,"d":5.76,"v":0.95},{"s":"c","g":1,"d":5.81,"v":1.05},{"s":"c","g":1,"d":5.86,"v":1.0},{"s":"c","g":1,"d":5.91,"v":0.9},{"s":"c","g":1,"d":5.96,"v":0.74},{"s":"c","g":1,"d":6.0,"v":0.5},{"s":"c","g":1,"d":6.04,"v":0.45},{"s":"c","g":1,"d":6.07,"v":0.41},{"s":"c","g":1,"d":6.12,"v":0.35},{"s":"c","g":1,"d":6.17,"v":0.3},{"s":"c","g":1,"d":6.22,"v":0.38},{"s":"c","g":1,"d":6.27,"v":0.32},{"s":"c","g":1,"d":6.32,"v":0.26},{"s":"c","g":1,"d":6.37,"v":0.33},{"s":"c","g":1,"d":6.42,"v":0.25},{"s":"c","g":1,"d":6.48,"v":0.3},{"s":"c","g":1,"d":6.53,"v":0.22},{"s":"c","g":1,"d":6.58,"v":0.27},{"s":"c","g":1,"d":6.63,"v":0.2},{"s":"c","g":1,"d":6.68,"v":0.25},{"s":"c","g":1,"d":6.73,"v":0.18},{"s":"c","g":1,"d":6.79,"v":0.23},{"s":"c","g":1,"d":6.84,"v":0.17},{"s":"c","g":1,"d":6.89,"v":0.21},{"s":"c","g":1,"d":6.94,"v":0.16},{"s":"c","g":1,"d":7.0,"v":0.2}
],
"q3": [
{"s":"a","d":0.07,"v":0.108},{"s":"a","d":0.22,"v":0.108},{"s":"a","d":0.42,"v":0.108},{"s":"a","d":0.68,"v":0.108},{"s":"a","d":1.19,"v":0.108},{"s":"a","d":1.35,"v":0.108},{"s":"a","d":1.45,"v":0.108},{"s":"a","d":1.61,"v":0.108},{"s":"a","d":1.76,"v":0.108},{"s":"a","d":1.96,"v":0.108},{"s":"a","d":2.07,"v":0.108},{"s":"a","d":2.27,"v":0.108},{"s":"a","d":2.53,"v":0.108},{"s":"a","d":2.73,"v":0.108},{"s":"a","d":2.94,"v":0.108},{"s":"a","d":0.12,"v":0.16},{"s":"a","d":0.33,"v":0.16},{"s":"a","d":1.43,"v":0.16},{"s":"a","d":1.99,"v":0.16},
{"s":"a","d":3.5,"v":0.054},{"s":"a","d":3.52,"v":0.054},{"s":"a","d":3.62,"v":0.054},{"s":"a","d":3.66,"v":0.054},{"s":"a","d":3.7,"v":0.054},{"s":"a","d":3.75,"v":0.054},{"s":"a","d":3.8,"v":0.054},{"s":"a","d":3.86,"v":0.054},{"s":"a","d":3.15,"v":0.054},{"s":"a","d":3.2,"v":0.054},
{"s":"a","d":2.99,"v":0.3},{"s":"a","d":3.02,"v":0.36},{"s":"a","d":3.04,"v":0.12},{"s":"a","d":3.09,"v":0.55},{"s":"a","d":3.12,"v":0.74},{"s":"a","d":3.17,"v":0.41},{"s":"a","d":3.22,"v":0.26},{"s":"a","d":3.3,"v":0.55},{"s":"a","d":3.35,"v":0.85},{"s":"a","d":3.4,"v":0.64},{"s":"a","d":3.45,"v":0.3},{"s":"a","d":3.48,"v":1.0},{"s":"a","d":3.53,"v":0.74},{"s":"a","d":3.58,"v":1.15},{"s":"a","d":3.61,"v":0.41},{"s":"a","d":3.66,"v":0.26},{"s":"a","d":3.71,"v":0.41},{"s":"a","d":3.76,"v":0.23},{"s":"a","d":3.81,"v":0.34},{"s":"a","d":3.86,"v":0.55},{"s":"a","d":3.91,"v":0.26},{"s":"a","d":3.96,"v":0.47},{"s":"a","d":4.02,"v":0.3},{"s":"a","d":4.07,"v":0.55},{"s":"a","d":4.12,"v":0.34},{"s":"a","d":4.17,"v":0.64},{"s":"a","d":4.22,"v":0.3},{"s":"a","d":4.27,"v":0.47},{"s":"a","d":4.32,"v":0.41},{"s":"a","d":4.37,"v":0.64},{"s":"a","d":4.43,"v":0.47},{"s":"a","d":4.48,"v":1.0},{"s":"a","d":3.07,"v":0.16},{"s":"a","d":3.25,"v":0.12},{"s":"a","d":3.92,"v":0.16},{"s":"a","d":4.1,"v":0.12},{"s":"a","d":4.3,"v":0.16},{"s":"a","d":4.45,"v":0.2},{"s":"a","d":3.0,"v":0.5},{"s":"a","d":3.14,"v":0.6},{"s":"a","d":3.27,"v":0.35},{"s":"a","d":3.38,"v":0.45},{"s":"a","d":3.5,"v":0.55},{"s":"a","d":3.63,"v":0.7},{"s":"a","d":3.73,"v":0.3},{"s":"a","d":3.84,"v":0.28},{"s":"a","d":3.99,"v":0.33},{"s":"a","d":4.15,"v":0.4},{"s":"a","d":4.25,"v":0.6},{"s":"a","d":4.4,"v":0.55},
{"s":"c","d":0.03,"v":0.0115},{"s":"c","d":0.17,"v":0.0115},{"s":"c","d":0.2,"v":0.0115},{"s":"c","d":0.25,"v":0.0115},{"s":"c","d":0.3,"v":0.0115},{"s":"c","d":1.3,"v":0.0115},{"s":"c","d":1.55,"v":0.0115},{"s":"c","d":1.6,"v":0.0115},{"s":"c","d":2.5,"v":0.0115},{"s":"c","d":2.55,"v":0.0115},{"s":"c","d":2.95,"v":0.0115},{"s":"c","d":3.0,"v":0.0115},{"s":"c","d":0.25,"v":0.023},{"s":"c","d":1.78,"v":0.023},{"s":"c","d":4.4,"v":0.023},{"s":"c","d":4.6,"v":0.023},{"s":"c","d":4.65,"v":0.023},
{"s":"b","d":0.5,"v":0.0115},{"s":"b","d":0.55,"v":0.0115},{"s":"b","d":0.7,"v":0.0115},{"s":"b","d":0.85,"v":0.0115},{"s":"b","d":0.9,"v":0.0115},{"s":"b","d":1.05,"v":0.0115},{"s":"b","d":1.15,"v":0.0115},{"s":"b","d":1.25,"v":0.0115},{"s":"b","d":1.4,"v":0.0115},{"s":"b","d":1.5,"v":0.0115},{"s":"b","d":1.75,"v":0.0115},{"s":"b","d":1.85,"v":0.0115},{"s":"b","d":1.95,"v":0.0115},{"s":"b","d":2.1,"v":0.0115},{"s":"b","d":2.2,"v":0.0115},{"s":"b","d":2.3,"v":0.0115},{"s":"b","d":2.4,"v":0.0115},{"s":"b","d":2.6,"v":0.0115},{"s":"b","d":2.7,"v":0.0115},{"s":"b","d":2.8,"v":0.0115},{"s":"b","d":2.85,"v":0.0115},{"s":"b","d":2.9,"v":0.0115},{"s":"b","d":3.15,"v":0.0115},{"s":"b","d":3.3,"v":0.0115},{"s":"b","d":3.5,"v":0.0115},{"s":"b","d":3.7,"v":0.0115},{"s":"b","d":3.95,"v":0.0115},{"s":"b","d":4.15,"v":0.0115},{"s":"b","d":4.35,"v":0.0115},
{"s":"b","d":0.08,"v":0.023},{"s":"b","d":1.55,"v":0.023},{"s":"b","d":1.62,"v":0.023},{"s":"b","d":3.07,"v":0.023},{"s":"b","d":3.12,"v":0.023},{"s":"b","d":3.2,"v":0.023},{"s":"b","d":3.25,"v":0.023},{"s":"b","d":3.35,"v":0.023},{"s":"b","d":3.42,"v":0.023},{"s":"b","d":3.85,"v":0.023},{"s":"b","d":3.9,"v":0.023},{"s":"b","d":3.97,"v":0.023},{"s":"b","d":4.05,"v":0.023},{"s":"b","d":4.12,"v":0.023},{"s":"b","d":4.18,"v":0.023},{"s":"b","d":4.25,"v":0.023},{"s":"b","d":4.32,"v":0.023},{"s":"b","d":4.38,"v":0.023},{"s":"b","d":4.45,"v":0.023},{"s":"b","d":4.52,"v":0.023},{"s":"b","d":4.58,"v":0.023},{"s":"b","d":4.63,"v":0.023},
{"s":"b","d":3.6,"v":0.036},{"s":"b","d":3.7,"v":0.036},{"s":"b","d":4.0,"v":0.036},{"s":"b","d":4.1,"v":0.036},{"s":"b","d":4.2,"v":0.036},{"s":"b","d":4.3,"v":0.036},{"s":"b","d":4.4,"v":0.036},{"s":"b","d":4.45,"v":0.036},{"s":"b","d":4.5,"v":0.036},{"s":"b","d":4.55,"v":0.036},{"s":"b","d":4.6,"v":0.045},{"s":"b","d":4.62,"v":0.05},{"s":"b","d":4.64,"v":0.04}
],
"l4": [
{"s":"a","g":0,"d":0,"v":0.0001},{"s":"a","g":0,"d":3.78,"v":0.0001},
{"s":"a","g":1,"d":3.7,"v":0.00025},{"s":"a","g":1,"d":3.71,"v":0.00048},{"s":"a","g":1,"d":3.74,"v":0.0008},{"s":"a","g":1,"d":3.76,"v":0.00135},{"s":"a","g":1,"d":3.78,"v":0.002},{"s":"a","g":1,"d":3.81,"v":0.0037},{"s":"a","g":1,"d":3.84,"v":0.005},{"s":"a","g":1,"d":3.86,"v":0.0062},{"s":"a","g":1,"d":3.9,"v":0.0075},{"s":"a","g":1,"d":3.94,"v":0.0087},{"s":"a","g":1,"d":3.96,"v":0.0095},{"s":"a","g":1,"d":3.99,"v":0.0062},{"s":"a","g":1,"d":4.02,"v":0.0065},{"s":"a","g":1,"d":4.07,"v":0.0087},{"s":"a","g":1,"d":4.12,"v":0.01},{"s":"a","g":1,"d":4.17,"v":0.0123},{"s":"a","g":1,"d":4.22,"v":0.011},{"s":"a","g":1,"d":4.27,"v":0.0135},{"s":"a","g":1,"d":4.32,"v":0.0145},{"s":"a","g":1,"d":4.38,"v":0.013},{"s":"a","g":1,"d":4.43,"v":0.016},{"s":"a","g":1,"d":4.48,"v":0.0145},{"s":"a","g":1,"d":4.53,"v":0.015},{"s":"a","g":1,"d":4.58,"v":0.0174},{"s":"a","g":1,"d":4.61,"v":0.022},{"s":"a","g":1,"d":4.63,"v":0.034},{"s":"a","g":1,"d":4.66,"v":0.07},{"s":"a","g":1,"d":4.68,"v":0.135},{"s":"a","g":1,"d":4.71,"v":0.3},{"s":"a","g":1,"d":4.73,"v":0.47},{"s":"a","g":1,"d":4.78,"v":0.55},{"s":"a","g":1,"d":4.84,"v":0.58},{"s":"a","g":1,"d":4.89,"v":0.52},{"s":"a","g":1,"d":4.94,"v":0.47},{"s":"a","g":1,"d":4.99,"v":0.37},{"s":"a","g":1,"d":5.02,"v":0.5},{"s":"a","g":1,"d":5.04,"v":0.74},{"s":"a","g":1,"d":5.09,"v":0.85},{"s":"a","g":1,"d":5.14,"v":0.93},{"s":"a","g":1,"d":5.19,"v":1.05},{"s":"a","g":1,"d":5.24,"v":1.23},{"s":"a","g":1,"d":5.29,"v":1.32},{"s":"a","g":1,"d":5.32,"v":0.9},{"s":"a","g":1,"d":5.35,"v":0.62},{"s":"a","g":1,"d":5.4,"v":0.55},{"s":"a","g":1,"d":5.45,"v":0.47},{"s":"a","g":1,"d":5.53,"v":0.42},{"s":"a","g":1,"d":5.61,"v":0.37},{"s":"a","g":1,"d":5.68,"v":0.4},{"s":"a","g":1,"d":5.76,"v":0.41},{"s":"a","g":1,"d":5.81,"v":0.45},{"s":"a","g":1,"d":5.86,"v":0.47},{"s":"a","g":1,"d":5.91,"v":0.42},{"s":"a","g":1,"d":5.96,"v":0.34},{"s":"a","g":1,"d":6.02,"v":0.25},{"s":"a","g":1,"d":6.07,"v":0.19},{"s":"a","g":1,"d":6.17,"v":0.16},{"s":"a","g":1,"d":6.27,"v":0.135},{"s":"a","g":1,"d":6.37,"v":0.115},{"s":"a","g":1,"d":6.48,"v":0.095},{"s":"a","g":1,"d":6.58,"v":0.085},{"s":"a","g":1,"d":6.68,"v":0.074},{"s":"a","g":1,"d":6.79,"v":0.066},{"s":"a","g":1,"d":6.89,"v":0.058},{"s":"a","g":1,"d":7.0,"v":0.054},
{"s":"b","g":1,"d":4.63,"v":0.0006},{"s":"b","g":1,"d":4.66,"v":0.0019},{"s":"b","g":1,"d":4.68,"v":0.005},{"s":"b","g":1,"d":4.71,"v":0.0102},{"s":"b","g":1,"d":4.74,"v":0.008},{"s":"b","g":1,"d":4.78,"v":0.0087},{"s":"b","g":1,"d":4.82,"v":0.0075},{"s":"b","g":1,"d":4.86,"v":0.0105},{"s":"b","g":1,"d":4.89,"v":0.0098},{"s":"b","g":1,"d":4.94,"v":0.0085},{"s":"b","g":1,"d":4.99,"v":0.0079},{"s":"b","g":1,"d":5.04,"v":0.0095},{"s":"b","g":1,"d":5.09,"v":0.011},{"s":"b","g":1,"d":5.14,"v":0.0125},{"s":"b","g":1,"d":5.19,"v":0.0135},{"s":"b","g":1,"d":5.24,"v":0.0125},{"s":"b","g":1,"d":5.29,"v":0.0145},{"s":"b","g":1,"d":5.32,"v":0.01},{"s":"b","g":1,"d":5.35,"v":0.0074},{"s":"b","g":1,"d":5.4,"v":0.0058},{"s":"b","g":1,"d":5.45,"v":0.0049},{"s":"b","g":1,"d":5.5,"v":0.0042},{"s":"b","g":1,"d":5.55,"v":0.0036},{"s":"b","g":1,"d":5.61,"v":0.0035},{"s":"b","g":1,"d":5.66,"v":0.004},{"s":"b","g":1,"d":5.71,"v":0.0038},{"s":"b","g":1,"d":5.76,"v":0.0045},{"s":"b","g":1,"d":5.81,"v":0.0036},{"s":"b","g":1,"d":5.86,"v":0.0037},{"s":"b","g":1,"d":5.91,"v":0.003},{"s":"b","g":1,"d":5.96,"v":0.0022},{"s":"b","g":1,"d":6.02,"v":0.0018},{"s":"b","g":1,"d":6.07,"v":0.00145},{"s":"b","g":1,"d":6.12,"v":0.0012},{"s":"b","g":1,"d":6.17,"v":0.0015},{"s":"b","g":1,"d":6.22,"v":0.001},{"s":"b","g":1,"d":6.27,"v":0.0011},{"s":"b","g":1,"d":6.32,"v":0.0009},{"s":"b","g":1,"d":6.37,"v":0.0012},{"s":"b","g":1,"d":6.42,"v":0.00085},{"s":"b","g":1,"d":6.48,"v":0.00095},{"s":"b","g":1,"d":6.53,"v":0.0011},{"s":"b","g":1,"d":6.58,"v":0.0008},{"s":"b","g":1,"d":6.63,"v":0.0009},{"s":"b","g":1,"d":6.68,"v":0.00065},{"s":"b","g":1,"d":6.73,"v":0.0008},{"s":"b","g":1,"d":6.79,"v":0.0006},{"s":"b","g":1,"d":6.84,"v":0.0007},{"s":"b","g":1,"d":6.89,"v":0.00055},{"s":"b","g":1,"d":6.94,"v":0.0006},{"s":"b","g":1,"d":7.0,"v":0.00045}
],
"q4": [
{"s":"a","d":0.0,"v":0.0002},{"s":"a","d":0.05,"v":0.0002},{"s":"a","d":0.1,"v":0.0002},{"s":"a","d":0.2,"v":0.0002},{"s":"a","d":0.3,"v":0.0002},{"s":"a","d":0.35,"v":0.0002},{"s":"a","d":0.45,"v":0.0002},{"s":"a","d":0.55,"v":0.0002},{"s":"a","d":0.75,"v":0.0002},{"s":"a","d":0.8,"v":0.0002},{"s":"a","d":0.85,"v":0.0002},{"s":"a","d":0.95,"v":0.0002},{"s":"a","d":1.05,"v":0.0002},{"s":"a","d":1.1,"v":0.0002},{"s":"a","d":1.2,"v":0.0002},{"s":"a","d":1.3,"v":0.0002},{"s":"a","d":1.35,"v":0.0002},{"s":"a","d":1.45,"v":0.0002},{"s":"a","d":1.5,"v":0.0002},{"s":"a","d":1.6,"v":0.0002},{"s":"a","d":1.7,"v":0.0002},{"s":"a","d":1.8,"v":0.0002},{"s":"a","d":1.85,"v":0.0002},{"s":"a","d":1.95,"v":0.0002},{"s":"a","d":2.05,"v":0.0002},{"s":"a","d":2.15,"v":0.0002},{"s":"a","d":2.25,"v":0.0002},{"s":"a","d":2.35,"v":0.0002},{"s":"a","d":2.45,"v":0.0002},{"s":"a","d":2.55,"v":0.0002},{"s":"a","d":2.6,"v":0.0002},{"s":"a","d":2.7,"v":0.0002},{"s":"a","d":2.8,"v":0.0002},{"s":"a","d":2.9,"v":0.0002},{"s":"a","d":3.0,"v":0.0002},{"s":"a","d":3.1,"v":0.0002},{"s":"a","d":3.2,"v":0.0002},{"s":"a","d":3.3,"v":0.0002},{"s":"a","d":3.35,"v":0.0002},{"s":"a","d":3.45,"v":0.0002},{"s":"a","d":3.55,"v":0.0002},{"s":"a","d":3.6,"v":0.0002},{"s":"a","d":3.65,"v":0.0002},{"s":"a","d":0.4,"v":0.0003},{"s":"a","d":1.1,"v":0.0003},{"s":"a","d":1.8,"v":0.0003},{"s":"a","d":1.9,"v":0.0003},{"s":"a","d":2.1,"v":0.0003},{"s":"a","d":3.05,"v":0.0003},{"s":"a","d":3.47,"v":0.00025},{"s":"a","d":3.5,"v":0.00035},{"s":"a","d":3.55,"v":0.00025},{"s":"a","d":3.6,"v":0.00026},
{"s":"b","d":0.2,"v":0.0001},{"s":"b","d":0.3,"v":0.0001},{"s":"b","d":0.5,"v":0.0001},{"s":"b","d":0.6,"v":0.0001},{"s":"b","d":1.0,"v":0.0001},{"s":"b","d":1.05,"v":0.0001},{"s":"b","d":1.6,"v":0.0001},{"s":"b","d":1.65,"v":0.0001},{"s":"b","d":1.7,"v":0.0001},{"s":"b","d":2.25,"v":0.0001},{"s":"b","d":2.3,"v":0.0001},{"s":"b","d":2.8,"v":0.0001},{"s":"b","d":2.85,"v":0.0001},{"s":"b","d":3.2,"v":0.0001},{"s":"b","d":3.3,"v":0.0001},
{"s":"b","d":0.05,"v":0.000012},{"s":"b","d":0.2,"v":0.000012},{"s":"b","d":0.45,"v":0.000012},{"s":"b","d":0.5,"v":0.000012},{"s":"b","d":0.95,"v":0.000012},{"s":"b","d":1.0,"v":0.000012},{"s":"b","d":1.05,"v":0.000012},{"s":"b","d":1.4,"v":0.000012},{"s":"b","d":1.55,"v":0.000012},{"s":"b","d":1.65,"v":0.000012},{"s":"b","d":1.85,"v":0.000012},{"s":"b","d":2.05,"v":0.000012},{"s":"b","d":2.2,"v":0.000012},{"s":"b","d":2.3,"v":0.000012},{"s":"b","d":2.4,"v":0.000012},{"s":"b","d":2.5,"v":0.000012},{"s":"b","d":2.6,"v":0.000012},{"s":"b","d":2.7,"v":0.000012},{"s":"b","d":2.8,"v":0.000012},{"s":"b","d":2.85,"v":0.000012},{"s":"b","d":3.0,"v":0.000012},{"s":"b","d":3.1,"v":0.000012},{"s":"b","d":3.3,"v":0.000012},{"s":"b","d":3.35,"v":0.000012},{"s":"b","d":3.6,"v":0.000012},{"s":"b","d":3.65,"v":0.000012},{"s":"b","d":3.7,"v":0.000012},{"s":"b","d":3.75,"v":0.000012},{"s":"b","d":1.55,"v":0.000026},
{"s":"b","d":3.8,"v":0.00012},{"s":"b","d":3.86,"v":0.00023},{"s":"b","d":3.92,"v":0.00047},{"s":"b","d":3.95,"v":0.0002},{"s":"b","d":4.02,"v":0.00039},{"s":"b","d":4.09,"v":0.00017},{"s":"b","d":4.14,"v":0.00055},{"s":"b","d":4.17,"v":0.00078},{"s":"b","d":4.22,"v":0.00033},{"s":"b","d":4.27,"v":0.00055},{"s":"b","d":4.3,"v":0.00017},{"s":"b","d":4.32,"v":0.00065},{"s":"b","d":4.35,"v":0.00039},{"s":"b","d":4.4,"v":0.00023},{"s":"b","d":4.44,"v":0.00055},{"s":"b","d":4.45,"v":0.0009},{"s":"b","d":4.49,"v":0.00028},{"s":"b","d":4.54,"v":0.00047},{"s":"b","d":4.57,"v":0.00078},{"s":"b","d":4.61,"v":0.00023},{"s":"b","d":3.94,"v":0.00004},{"s":"b","d":4.09,"v":0.000016},{"s":"b","d":4.22,"v":0.000063},{"s":"b","d":4.42,"v":0.000016},{"s":"b","d":4.54,"v":0.000063},{"s":"b","d":4.02,"v":0.00012},{"s":"b","d":4.38,"v":0.00012},
{"s":"c","d":4.69,"v":0.00015},{"s":"c","d":4.72,"v":0.00018},{"s":"c","d":4.76,"v":0.00014},{"s":"c","d":4.8,"v":0.00022},{"s":"c","d":4.83,"v":0.00016},{"s":"c","d":4.87,"v":0.00019},{"s":"c","d":4.9,"v":0.00013},{"s":"c","d":4.94,"v":0.00024},{"s":"c","d":4.97,"v":0.00017},{"s":"c","d":5.0,"v":0.00015},{"s":"c","d":5.04,"v":0.0002},{"s":"c","d":5.07,"v":0.00016},{"s":"c","d":5.1,"v":0.00026},{"s":"c","d":5.14,"v":0.00018},{"s":"c","d":5.17,"v":0.00014},{"s":"c","d":5.2,"v":0.00022},{"s":"c","d":5.24,"v":0.00017},{"s":"c","d":5.27,"v":0.0003},{"s":"c","d":5.3,"v":0.00016},{"s":"c","d":5.34,"v":0.0002},{"s":"c","d":5.38,"v":0.00014},{"s":"c","d":5.42,"v":0.00016},
{"s":"c","d":4.72,"v":0.00038},{"s":"c","d":4.85,"v":0.00035},{"s":"c","d":4.95,"v":0.00039},{"s":"c","d":5.05,"v":0.00033},{"s":"c","d":5.12,"v":0.0004},{"s":"c","d":5.22,"v":0.00035},{"s":"c","d":5.3,"v":0.00045},{"s":"c","d":5.25,"v":0.00033},
{"s":"c","d":5.5,"v":0.00014},{"s":"c","d":5.6,"v":0.00013},{"s":"c","d":5.72,"v":0.00015},{"s":"c","d":5.85,"v":0.00013},{"s":"c","d":5.95,"v":0.00014},{"s":"c","d":6.1,"v":0.00012},{"s":"c","d":6.25,"v":0.00014},{"s":"c","d":6.4,"v":0.00012},{"s":"c","d":6.5,"v":0.00013},{"s":"c","d":6.65,"v":0.00012},{"s":"c","d":5.8,"v":0.00015},{"s":"c","d":6.3,"v":0.0003},{"s":"c","d":5.97,"v":0.00035},
{"s":"c","d":5.55,"v":0.0001},{"s":"c","d":5.7,"v":0.0001},{"s":"c","d":5.9,"v":0.0001},{"s":"c","d":6.05,"v":0.0001},{"s":"c","d":6.2,"v":0.0001},{"s":"c","d":6.35,"v":0.0001},{"s":"c","d":6.55,"v":0.0001},{"s":"c","d":6.7,"v":0.0001},
{"s":"c","d":4.63,"v":0.00006},{"s":"c","d":4.7,"v":0.00004},{"s":"c","d":4.78,"v":0.00006},{"s":"c","d":4.85,"v":0.00004},{"s":"c","d":4.9,"v":0.00006},{"s":"c","d":4.98,"v":0.000035},{"s":"c","d":5.05,"v":0.00006},{"s":"c","d":5.1,"v":0.00004},{"s":"c","d":5.15,"v":0.00006},{"s":"c","d":5.22,"v":0.00004},{"s":"c","d":5.3,"v":0.00005},{"s":"c","d":5.36,"v":0.00004},{"s":"c","d":5.5,"v":0.00004},{"s":"c","d":5.65,"v":0.000035},{"s":"c","d":5.8,"v":0.00004},{"s":"c","d":6.0,"v":0.00004},{"s":"c","d":6.2,"v":0.000035},{"s":"c","d":6.45,"v":0.00004},{"s":"c","d":6.72,"v":0.00004},{"s":"c","d":6.95,"v":0.00004},
{"s":"c","d":3.8,"v":0.000013},{"s":"c","d":3.88,"v":0.000013},{"s":"c","d":3.95,"v":0.000013},{"s":"c","d":4.3,"v":0.000013},{"s":"c","d":4.45,"v":0.000013},{"s":"c","d":4.55,"v":0.000013},{"s":"c","d":4.6,"v":0.000013},{"s":"c","d":4.65,"v":0.000013},{"s":"c","d":4.75,"v":0.000013},{"s":"c","d":4.85,"v":0.000013},{"s":"c","d":4.95,"v":0.000013},{"s":"c","d":5.05,"v":0.000013},{"s":"c","d":5.15,"v":0.000013},{"s":"c","d":5.25,"v":0.000013},{"s":"c","d":5.35,"v":0.000013},{"s":"c","d":5.45,"v":0.000013},{"s":"c","d":5.55,"v":0.000013},{"s":"c","d":5.65,"v":0.000013},{"s":"c","d":5.75,"v":0.000013},{"s":"c","d":5.85,"v":0.000013},{"s":"c","d":5.95,"v":0.000013},{"s":"c","d":6.05,"v":0.000013},{"s":"c","d":6.15,"v":0.000013},{"s":"c","d":6.25,"v":0.000013},{"s":"c","d":6.35,"v":0.000013},{"s":"c","d":6.45,"v":0.000013},{"s":"c","d":6.55,"v":0.000013},{"s":"c","d":6.65,"v":0.000013},{"s":"c","d":6.75,"v":0.000013},{"s":"c","d":6.85,"v":0.000013},{"s":"c","d":6.95,"v":0.000013}
]
},
"vconcat": [
{
 "width": 696, "height": 180,
 "resolve": {"axis": {"x": "independent", "y": "independent"}},
 "layer": [
  {"data": {"name": "l1"}, "mark": {"type": "line", "strokeWidth": 2, "clip": true},
   "encoding": {
    "x": {"field": "d", "type": "quantitative", "scale": {"domain": [0, 7], "nice": false, "zero": false}, "axis": {"orient": "bottom", "values": [0,0.5,1,1.5,2,2.5,3,3.5,4,4.5,5,5.5,6,6.5,7], "labels": false, "title": null, "tickSize": -5}},
    "y": {"field": "v", "type": "quantitative", "scale": {"type": "log", "domain": [0.001, 10000000], "nice": false}, "axis": {"orient": "left", "values": [0.001,0.01,0.1,1,10,100,1000,10000,100000,1000000,10000000], "labelExpr": "abs(round(log(datum.value)/LN10)) % 2 == 0 ? '10' + (datum.value < 0.5 ? '⁻' : '') + substring('⁰¹²³⁴⁵⁶⁷⁸⁹', abs(round(log(datum.value)/LN10)), abs(round(log(datum.value)/LN10)) + 1) : ''", "tickSize": {"condition": {"test": "abs(round(log(datum.value)/LN10)) % 2 == 0", "value": -12}, "value": -7}, "labelPadding": 22, "labelFont": "Liberation Sans", "labelFontSize": 13, "title": "1/(cm² s sr MeV)", "titleFont": "DejaVu Sans Mono", "titleFontSize": 13, "titleFontWeight": "normal", "titlePadding": 8}},
    "color": {"field": "s", "type": "nominal", "scale": {"domain": ["a","b"], "range": ["#000000","#0000ff"]}, "legend": {"orient": "none", "legendX": -13, "legendY": -17, "direction": "horizontal", "title": null, "columnPadding": 33, "labelExpr": "datum.value == 'a' ? '0.035 to 0.065 MeV Electrons' : '0.7 to 4.0 Mev Electrons'", "encode": {"labels": {"update": {"fill": {"signal": "datum.value == 'a' ? '#000000' : '#0000ff'"}}}}}},
    "detail": {"field": "g", "type": "nominal"}
   }},
  {"data": {"name": "q1"}, "mark": {"type": "point", "shape": "square", "filled": true, "size": 6, "opacity": 1, "clip": true},
   "encoding": {
    "x": {"field": "d", "type": "quantitative", "scale": {"domain": [0, 7], "nice": false, "zero": false}, "axis": {"orient": "top", "values": [0,0.5,1,1.5,2,2.5,3,3.5,4,4.5,5,5.5,6,6.5,7], "labels": false, "title": null, "tickSize": -5}},
    "y": {"field": "v", "type": "quantitative", "scale": {"type": "log", "domain": [0.001, 10000000], "nice": false}, "axis": {"orient": "right", "values": [0.001,0.01,0.1,1,10,100,1000,10000,100000,1000000,10000000], "labels": false, "title": null, "tickSize": {"condition": {"test": "abs(round(log(datum.value)/LN10)) % 2 == 0", "value": -12}, "value": -7}}},
    "color": {"field": "s", "type": "nominal", "scale": {"domain": ["a","b"], "range": ["#000000","#0000ff"]}, "legend": {"orient": "none", "legendX": -13, "legendY": -17, "direction": "horizontal", "title": null, "columnPadding": 33, "labelExpr": "datum.value == 'a' ? '0.035 to 0.065 MeV Electrons' : '0.7 to 4.0 Mev Electrons'", "encode": {"labels": {"update": {"fill": {"signal": "datum.value == 'a' ? '#000000' : '#0000ff'"}}}}}}
   }}
 ]
},
{
 "width": 696, "height": 180,
 "resolve": {"axis": {"x": "independent", "y": "independent"}},
 "layer": [
  {"data": {"name": "l2"}, "mark": {"type": "line", "strokeWidth": 2, "clip": true},
   "encoding": {
    "x": {"field": "d", "type": "quantitative", "scale": {"domain": [0, 7], "nice": false, "zero": false}, "axis": {"orient": "bottom", "values": [0,0.5,1,1.5,2,2.5,3,3.5,4,4.5,5,5.5,6,6.5,7], "labels": false, "title": null, "tickSize": -5}},
    "y": {"field": "v", "type": "quantitative", "scale": {"type": "log", "domain": [0.00001, 1000000], "nice": false}, "axis": {"orient": "left", "values": [0.00001,0.0001,0.001,0.01,0.1,1,10,100,1000,10000,100000,1000000], "labelExpr": "abs(round(log(datum.value)/LN10)) % 2 == 0 ? '10' + (datum.value < 0.5 ? '⁻' : '') + substring('⁰¹²³⁴⁵⁶⁷⁸⁹', abs(round(log(datum.value)/LN10)), abs(round(log(datum.value)/LN10)) + 1) : ''", "tickSize": {"condition": {"test": "abs(round(log(datum.value)/LN10)) % 2 == 0", "value": -12}, "value": -7}, "labelPadding": 22, "labelFont": "Liberation Sans", "labelFontSize": 13, "title": "1/(cm² s sr MeV)", "titleFont": "DejaVu Sans Mono", "titleFontSize": 13, "titleFontWeight": "normal", "titlePadding": 8}},
    "color": {"field": "s", "type": "nominal", "scale": {"domain": ["a","b","c","d"], "range": ["#000000","#0000ff","#c8826a","#ff0000"]}, "legend": {"orient": "none", "legendX": -13, "legendY": -17, "direction": "horizontal", "title": null, "columnPadding": 23, "labelExpr": "datum.value == 'a' ? '0.14-0.62 MeV H' : datum.value == 'b' ? '0.62-2.22 MeV H' : datum.value == 'c' ? '2.2-12 MeV H' : '13-100 MeV H'", "encode": {"labels": {"update": {"fill": {"signal": "datum.value == 'a' ? '#000000' : datum.value == 'b' ? '#0000ff' : datum.value == 'c' ? '#c8826a' : '#ff0000'"}}}}}},
    "detail": {"field": "g", "type": "nominal"}
   }},
  {"data": {"name": "q2"}, "mark": {"type": "point", "shape": "square", "filled": true, "size": 6, "opacity": 1, "clip": true},
   "encoding": {
    "x": {"field": "d", "type": "quantitative", "scale": {"domain": [0, 7], "nice": false, "zero": false}, "axis": {"orient": "top", "values": [0,0.5,1,1.5,2,2.5,3,3.5,4,4.5,5,5.5,6,6.5,7], "labels": false, "title": null, "tickSize": -5}},
    "y": {"field": "v", "type": "quantitative", "scale": {"type": "log", "domain": [0.00001, 1000000], "nice": false}, "axis": {"orient": "right", "values": [0.00001,0.0001,0.001,0.01,0.1,1,10,100,1000,10000,100000,1000000], "labels": false, "title": null, "tickSize": {"condition": {"test": "abs(round(log(datum.value)/LN10)) % 2 == 0", "value": -12}, "value": -7}}},
    "color": {"field": "s", "type": "nominal", "scale": {"domain": ["a","b","c","d"], "range": ["#000000","#0000ff","#c8826a","#ff0000"]}, "legend": {"orient": "none", "legendX": -13, "legendY": -17, "direction": "horizontal", "title": null, "columnPadding": 23, "labelExpr": "datum.value == 'a' ? '0.14-0.62 MeV H' : datum.value == 'b' ? '0.62-2.22 MeV H' : datum.value == 'c' ? '2.2-12 MeV H' : '13-100 MeV H'", "encode": {"labels": {"update": {"fill": {"signal": "datum.value == 'a' ? '#000000' : datum.value == 'b' ? '#0000ff' : datum.value == 'c' ? '#c8826a' : '#ff0000'"}}}}}}
   }}
 ]
},
{
 "width": 696, "height": 180,
 "resolve": {"axis": {"x": "independent", "y": "independent"}},
 "layer": [
  {"data": {"name": "l3"}, "mark": {"type": "line", "strokeWidth": 2, "clip": true},
   "encoding": {
    "x": {"field": "d", "type": "quantitative", "scale": {"domain": [0, 7], "nice": false, "zero": false}, "axis": {"orient": "bottom", "values": [0,0.5,1,1.5,2,2.5,3,3.5,4,4.5,5,5.5,6,6.5,7], "labels": false, "title": null, "tickSize": -5}},
    "y": {"field": "v", "type": "quantitative", "scale": {"type": "log", "domain": [0.001, 10000], "nice": false}, "axis": {"orient": "left", "values": [0.001,0.01,0.1,1,10,100,1000,10000], "labelExpr": "'10' + (datum.value < 0.5 ? '⁻' : '') + substring('⁰¹²³⁴⁵⁶⁷⁸⁹', abs(round(log(datum.value)/LN10)), abs(round(log(datum.value)/LN10)) + 1)", "tickSize": -12, "labelPadding": 22, "labelFont": "Liberation Sans", "labelFontSize": 13, "title": "1/(cm² s sr MeV/nuc.)", "titleFont": "DejaVu Sans Mono", "titleFontSize": 13, "titleFontWeight": "normal", "titlePadding": 8}},
    "color": {"field": "s", "type": "nominal", "scale": {"domain": ["a","b","c"], "range": ["#000000","#0000ff","#ff0000"]}, "legend": {"orient": "none", "legendX": -13, "legendY": -17, "direction": "horizontal", "title": null, "columnPadding": 26, "labelExpr": "datum.value == 'a' ? '0.12-1.08 MeV/n He' : datum.value == 'b' ? '0.12-1.08 MeV/n CNO' : '0.12-1.08 MeV Fe'", "encode": {"labels": {"update": {"fill": {"signal": "datum.value == 'a' ? '#000000' : datum.value == 'b' ? '#0000ff' : '#ff0000'"}}}}}},
    "detail": {"field": "g", "type": "nominal"}
   }},
  {"data": {"name": "q3"}, "mark": {"type": "point", "shape": "square", "filled": true, "size": 6, "opacity": 1, "clip": true},
   "encoding": {
    "x": {"field": "d", "type": "quantitative", "scale": {"domain": [0, 7], "nice": false, "zero": false}, "axis": {"orient": "top", "values": [0,0.5,1,1.5,2,2.5,3,3.5,4,4.5,5,5.5,6,6.5,7], "labels": false, "title": null, "tickSize": -5}},
    "y": {"field": "v", "type": "quantitative", "scale": {"type": "log", "domain": [0.001, 10000], "nice": false}, "axis": {"orient": "right", "values": [0.001,0.01,0.1,1,10,100,1000,10000], "labels": false, "title": null, "tickSize": -12}},
    "color": {"field": "s", "type": "nominal", "scale": {"domain": ["a","b","c"], "range": ["#000000","#0000ff","#ff0000"]}, "legend": {"orient": "none", "legendX": -13, "legendY": -17, "direction": "horizontal", "title": null, "columnPadding": 26, "labelExpr": "datum.value == 'a' ? '0.12-1.08 MeV/n He' : datum.value == 'b' ? '0.12-1.08 MeV/n CNO' : '0.12-1.08 MeV Fe'", "encode": {"labels": {"update": {"fill": {"signal": "datum.value == 'a' ? '#000000' : datum.value == 'b' ? '#0000ff' : '#ff0000'"}}}}}}
   }}
 ]
},
{
 "width": 696, "height": 180,
 "resolve": {"axis": {"x": "independent", "y": "independent"}},
 "layer": [
  {"data": {"name": "l4"}, "mark": {"type": "line", "strokeWidth": 2, "clip": true},
   "encoding": {
    "x": {"field": "d", "type": "quantitative", "scale": {"domain": [0, 7], "nice": false, "zero": false}, "axis": {"orient": "bottom", "values": [0,0.5,1,1.5,2,2.5,3,3.5,4,4.5,5,5.5,6,6.5,7], "labelExpr": "datum.value == 1 ? '27-Nov' : datum.value == 3 ? '29-Nov' : datum.value == 5 ? '01-Dec' : datum.value == 7 ? '03-Dec' : ''", "labelFont": "DejaVu Sans Mono", "labelFontSize": 14.5, "labelPadding": 6, "tickSize": -5, "title": "STEREO Ahead\u00a0\u00a0\u00a0\u00a0\u00a0\u00a0\u00a0\u00a0\u00a0\u00a0\u00a0\u00a0\u00a0\u00a0\u00a0Start: 26-Nov-2020 00:00 UTC", "titleAnchor": "start", "titleAlign": "left", "titleFont": "DejaVu Sans Mono", "titleFontSize": 13, "titleFontWeight": "normal", "titlePadding": 3}},
    "y": {"field": "v", "type": "quantitative", "scale": {"type": "log", "domain": [0.00001, 1000], "nice": false}, "axis": {"orient": "left", "values": [0.00001,0.0001,0.001,0.01,0.1,1,10,100,1000], "labelExpr": "abs(round(log(datum.value)/LN10)) % 2 == 0 ? '10' + (datum.value < 0.5 ? '⁻' : '') + substring('⁰¹²³⁴⁵⁶⁷⁸⁹', abs(round(log(datum.value)/LN10)), abs(round(log(datum.value)/LN10)) + 1) : ''", "tickSize": {"condition": {"test": "abs(round(log(datum.value)/LN10)) % 2 == 0", "value": -12}, "value": -7}, "labelPadding": 22, "labelFont": "Liberation Sans", "labelFontSize": 13, "title": "1/(cm² s sr MeV/nuc.)", "titleFont": "DejaVu Sans Mono", "titleFontSize": 13, "titleFontWeight": "normal", "titlePadding": 8}},
    "color": {"field": "s", "type": "nominal", "scale": {"domain": ["a","b","c"], "range": ["#000000","#0000ff","#ff0000"]}, "legend": {"orient": "none", "legendX": -13, "legendY": -17, "direction": "horizontal", "title": null, "columnPadding": 25, "labelExpr": "datum.value == 'a' ? '4 to 12 MeV/n He' : datum.value == 'b' ? '4 to 12 MeV/n CNO' : '4 to 12 MeV Fe'", "encode": {"labels": {"update": {"fill": {"signal": "datum.value == 'a' ? '#000000' : datum.value == 'b' ? '#0000ff' : '#ff0000'"}}}}}},
    "detail": {"field": "g", "type": "nominal"}
   }},
  {"data": {"name": "q4"}, "mark": {"type": "point", "shape": "square", "filled": true, "size": 6, "opacity": 1, "clip": true},
   "encoding": {
    "x": {"field": "d", "type": "quantitative", "scale": {"domain": [0, 7], "nice": false, "zero": false}, "axis": {"orient": "top", "values": [0,0.5,1,1.5,2,2.5,3,3.5,4,4.5,5,5.5,6,6.5,7], "labels": false, "title": null, "tickSize": -5}},
    "y": {"field": "v", "type": "quantitative", "scale": {"type": "log", "domain": [0.00001, 1000], "nice": false}, "axis": {"orient": "right", "values": [0.00001,0.0001,0.001,0.01,0.1,1,10,100,1000], "labels": false, "title": null, "tickSize": {"condition": {"test": "abs(round(log(datum.value)/LN10)) % 2 == 0", "value": -12}, "value": -7}}},
    "color": {"field": "s", "type": "nominal", "scale": {"domain": ["a","b","c"], "range": ["#000000","#0000ff","#ff0000"]}, "legend": {"orient": "none", "legendX": -13, "legendY": -17, "direction": "horizontal", "title": null, "columnPadding": 25, "labelExpr": "datum.value == 'a' ? '4 to 12 MeV/n He' : datum.value == 'b' ? '4 to 12 MeV/n CNO' : '4 to 12 MeV Fe'", "encode": {"labels": {"update": {"fill": {"signal": "datum.value == 'a' ? '#000000' : datum.value == 'b' ? '#0000ff' : '#ff0000'"}}}}}}
   }}
 ]
}
]
}
